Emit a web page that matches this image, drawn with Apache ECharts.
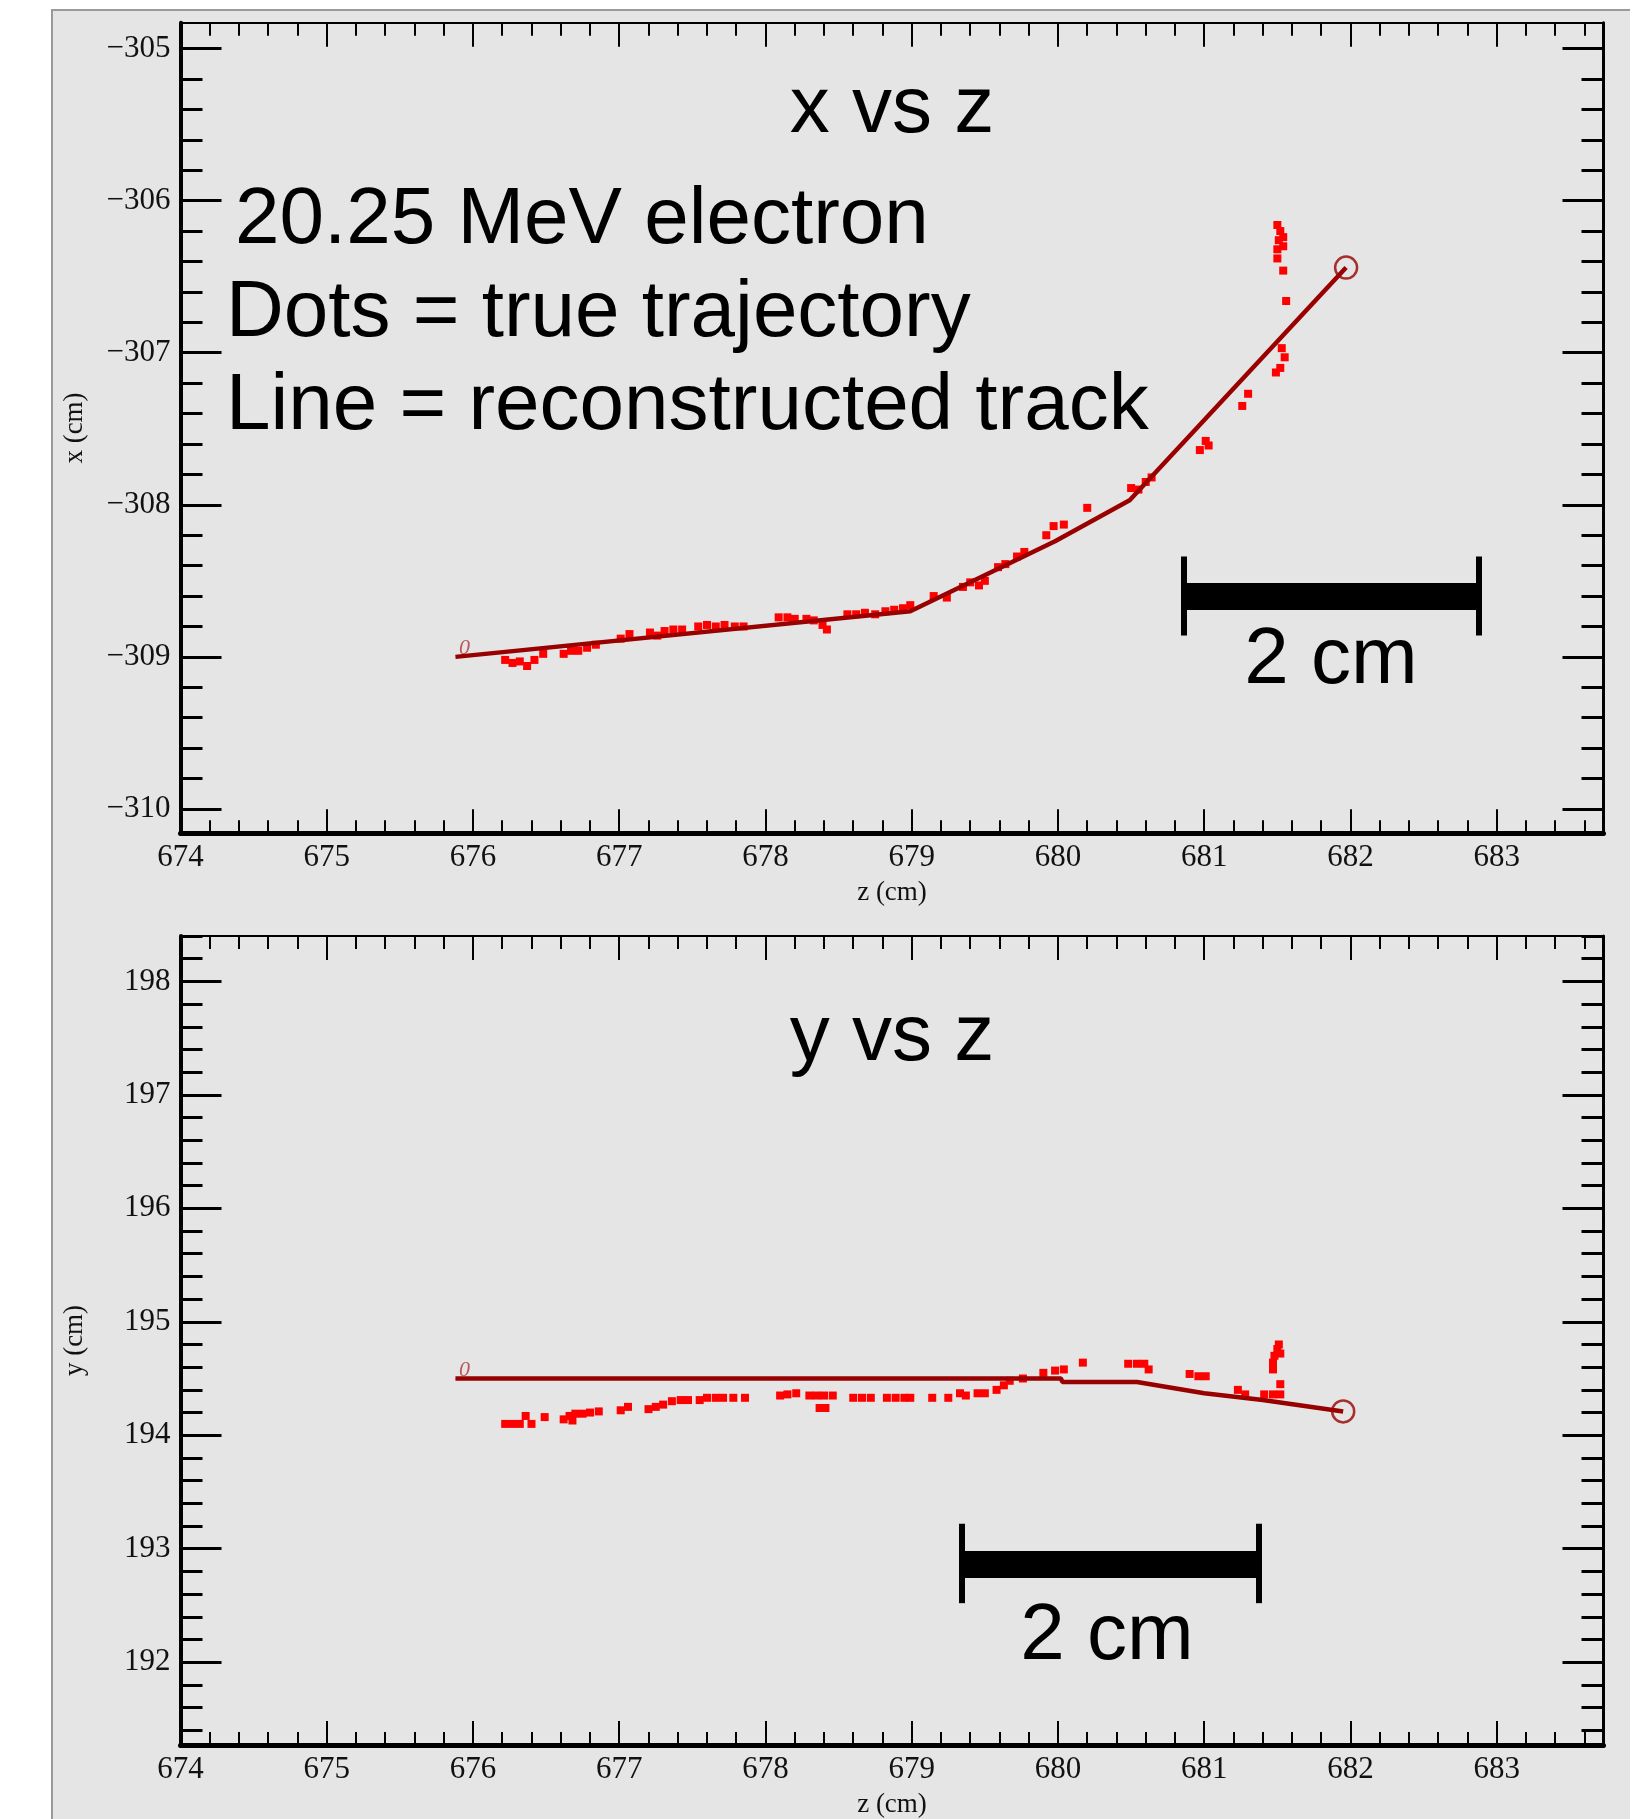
<!DOCTYPE html>
<html>
<head>
<meta charset="utf-8">
<title>x vs z / y vs z</title>
<script src="https://cdn.jsdelivr.net/npm/echarts@6/dist/echarts.min.js"></script>
<style>
  html, body { margin: 0; padding: 0; background: #fff; }
  #panel {
    position: absolute; left: 51px; top: 9px; width: 1577px; height: 1810px;
    background: #e5e5e5; border-left: 2px solid #9a9a9a; border-top: 2px solid #9a9a9a;
  }
  #chart { position: absolute; left: 0; top: 0; width: 1640px; height: 1819px; }
</style>
</head>
<body>
<div id="panel"></div>
<div id="chart"></div>
<script>
// axis ticks and ranges
const zTicks = [674, 675, 676, 677, 678, 679, 680, 681, 682, 683]
const xTicks = [-310, -309, -308, -307, -306, -305]
const yTicks = [192, 193, 194, 195, 196, 197, 198]
const zRange = [674, 683.73]
const xRange = [-310.16, -304.83]
const yRange = [191.27, 198.40]

// reconstructed track (line) and true trajectory (dots), x vs z
const trackXZ = [[675.88, -309.00], [678.99, -308.70], [679.98, -308.24], [680.49, -307.97], [681.97, -306.44]]
const hitsXZ = [
  [676.22, -309.02], [676.27, -309.04], [676.32, -309.03], [676.37, -309.06], [676.42, -309.02],
  [676.48, -308.98], [676.62, -308.98], [676.67, -308.96], [676.72, -308.96], [676.78, -308.94], [676.84, -308.92],
  [677.01, -308.88], [677.07, -308.85], [677.21, -308.84], [677.26, -308.86], [677.31, -308.83], [677.37, -308.82], [677.43, -308.82],
  [677.54, -308.80], [677.60, -308.79], [677.66, -308.80], [677.72, -308.79], [677.79, -308.80], [677.85, -308.80],
  [678.09, -308.74], [678.15, -308.74], [678.20, -308.75], [678.28, -308.75], [678.33, -308.76],
  [678.39, -308.79], [678.42, -308.82], [678.56, -308.72], [678.62, -308.72], [678.68, -308.71], [678.75, -308.72],
  [678.82, -308.70], [678.88, -308.69], [678.94, -308.68], [678.99, -308.66],
  [679.15, -308.60], [679.24, -308.61], [679.35, -308.54], [679.40, -308.51], [679.46, -308.53], [679.50, -308.50],
  [679.59, -308.41], [679.64, -308.39], [679.72, -308.34], [679.77, -308.31],
  [679.92, -308.20], [679.97, -308.14], [680.04, -308.13], [680.20, -308.02],
  [680.50, -307.89], [680.55, -307.90], [680.60, -307.85], [680.64, -307.82],
  [680.97, -307.64], [681.01, -307.58], [681.03, -307.61], [681.26, -307.35], [681.30, -307.27],
  [681.49, -307.13], [681.52, -307.10], [681.55, -307.03], [681.53, -306.97], [681.56, -306.66], [681.54, -306.46],
  [681.50, -306.38], [681.50, -306.32], [681.51, -306.26], [681.52, -306.20], [681.50, -306.16], [681.54, -306.24], [681.54, -306.30]
]

// y vs z
const trackYZ = [[675.88, 194.50], [680.02, 194.50], [680.03, 194.47], [680.54, 194.47], [681.00, 194.37], [681.40, 194.31], [681.95, 194.21]]
const hitsYZ = [
  [676.22, 194.10], [676.27, 194.10], [676.32, 194.10], [676.36, 194.17], [676.40, 194.10], [676.49, 194.16],
  [676.62, 194.14], [676.66, 194.17], [676.70, 194.19], [676.75, 194.19], [676.80, 194.20], [676.86, 194.21], [676.68, 194.13],
  [677.01, 194.22], [677.06, 194.25], [677.20, 194.23], [677.25, 194.25], [677.30, 194.27], [677.36, 194.30], [677.42, 194.31], [677.47, 194.31],
  [677.55, 194.31], [677.60, 194.33], [677.66, 194.33], [677.71, 194.33], [677.78, 194.33], [677.86, 194.33],
  [678.10, 194.35], [678.15, 194.36], [678.21, 194.37], [678.30, 194.35], [678.35, 194.35], [678.40, 194.35], [678.46, 194.35],
  [678.37, 194.24], [678.41, 194.24], [678.60, 194.33], [678.66, 194.33], [678.72, 194.33],
  [678.83, 194.33], [678.89, 194.33], [678.95, 194.33], [678.99, 194.33], [679.14, 194.33], [679.25, 194.33],
  [679.33, 194.37], [679.37, 194.35], [679.45, 194.37], [679.50, 194.37],
  [679.58, 194.40], [679.63, 194.44], [679.67, 194.48], [679.76, 194.50], [679.90, 194.55], [679.98, 194.57], [680.04, 194.58], [680.17, 194.64],
  [680.48, 194.63], [680.54, 194.63], [680.59, 194.63], [680.62, 194.58],
  [680.90, 194.54], [680.96, 194.52], [681.01, 194.52], [681.23, 194.40], [681.28, 194.36],
  [681.41, 194.36], [681.47, 194.36], [681.52, 194.36],
  [681.47, 194.58], [681.47, 194.64], [681.48, 194.70], [681.50, 194.76], [681.51, 194.80], [681.52, 194.72], [681.52, 194.45]
]

// 2 cm scale bars: [z from, z to, level], cap extents
const barXZ = [680.86, 682.88, -308.60]
const capXZ = [-308.34, -308.86]
const barYZ = [679.34, 681.37, 192.86]
const capYZ = [193.22, 192.52]

const SERIF = '"Liberation Serif", "DejaVu Serif", serif'
const SANS = '"Liberation Sans", Arial, sans-serif'
const TRACK = '#990000'
const HIT = '#ff0000'

function minorTicks(range) {
  const out = []
  for (let k = Math.ceil(range[0] * 5 - 1e-6); k <= Math.floor(range[1] * 5 + 1e-6); k++) {
    if (k % 5 !== 0) out.push(k / 5)
  }
  return out
}

function axis(gridIndex, range, position, opts) {
  return {
    type: 'value',
    gridIndex,
    position,
    min: range[0],
    max: range[1],
    splitLine: { show: false },
    axisLine: { show: !!opts.line, onZero: false, lineStyle: { color: '#000', width: opts.line || 1 } },
    axisTick: {
      show: true, inside: true, length: opts.tickLen,
      customValues: opts.ticks,
      lineStyle: { color: '#000', width: opts.tickWidth }
    },
    axisLabel: opts.labels ? {
      show: true, customValues: opts.labels, margin: opts.margin,
      fontFamily: SERIF, fontSize: 31, color: '#111',
      formatter: v => String(v).replace('-', '\u2212')
    } : { show: false },
    name: opts.name || '',
    nameLocation: 'middle',
    nameGap: opts.nameGap || 0,
    nameTextStyle: { fontFamily: SERIF, fontSize: 27, color: '#111' }
  }
}

function xAxesFor(g) {
  const minors = minorTicks(zRange)
  return [
    axis(g, zRange, 'bottom', { line: 5, ticks: zTicks, tickLen: 24, tickWidth: 2, labels: zTicks, margin: 9, name: 'z (cm)', nameGap: 46 }),
    axis(g, zRange, 'bottom', { ticks: minors, tickLen: 13, tickWidth: 2 }),
    axis(g, zRange, 'top', { line: 2, ticks: zTicks, tickLen: 24, tickWidth: 2 }),
    axis(g, zRange, 'top', { ticks: minors, tickLen: 13, tickWidth: 2 })
  ]
}

function yAxesFor(g, range, ticks, name) {
  const minors = minorTicks(range)
  return [
    axis(g, range, 'left', { line: 4, ticks, tickLen: 41, tickWidth: 3, labels: ticks, margin: 10, name, nameGap: 92 }),
    axis(g, range, 'left', { ticks: minors, tickLen: 22, tickWidth: 3 }),
    axis(g, range, 'right', { line: 3, ticks, tickLen: 41, tickWidth: 3 }),
    axis(g, range, 'right', { ticks: minors, tickLen: 22, tickWidth: 3 })
  ]
}

function plotSeries(xi, yi, track, hits, bar, cap) {
  return [
    {
      type: 'scatter', xAxisIndex: xi, yAxisIndex: yi, data: hits,
      symbol: 'rect', symbolSize: 8, itemStyle: { color: HIT, opacity: 1 }, z: 2, silent: true
    },
    {
      type: 'line', xAxisIndex: xi, yAxisIndex: yi, data: track,
      symbol: 'none', lineStyle: { color: TRACK, width: 4.5 }, z: 3, silent: true
    },
    {
      // start marker
      type: 'scatter', xAxisIndex: xi, yAxisIndex: yi, data: [track[0]],
      symbol: 'circle', symbolSize: 1, itemStyle: { color: 'transparent' }, z: 4,
      label: {
        show: true, formatter: '0', position: 'top', distance: 0, offset: [9, 3],
        fontFamily: SERIF, fontStyle: 'italic', fontSize: 22, color: '#b03333'
      }
    },
    {
      // end marker
      type: 'scatter', xAxisIndex: xi, yAxisIndex: yi, data: [track[track.length - 1]],
      symbol: 'circle', symbolSize: 22,
      itemStyle: { color: 'transparent', borderColor: TRACK, borderWidth: 2.5 }, z: 4
    },
    {
      // 2 cm scale bar
      type: 'lines', coordinateSystem: 'cartesian2d', xAxisIndex: xi, yAxisIndex: yi, z: 5,
      lineStyle: { color: '#000', width: 6, opacity: 1, curveness: 0, cap: 'butt' },
      data: [
        { coords: [[bar[0], bar[2]], [bar[1], bar[2]]], lineStyle: { width: 27 } },
        { coords: [[bar[0], cap[0]], [bar[0], cap[1]]] },
        { coords: [[bar[1], cap[0]], [bar[1], cap[1]]] }
      ]
    }
  ]
}

function text(str, x, y, align) {
  return {
    type: 'text', x, y, z: 10,
    style: { text: str, font: '80px ' + SANS, fill: '#000', align: align || 'left', verticalAlign: 'middle' }
  }
}

const chart = echarts.init(document.getElementById('chart'), null, { renderer: 'canvas' })

chart.setOption({
  animation: false,
  backgroundColor: 'transparent',
  grid: [
    { left: 180.5, top: 22.7, width: 1423, height: 810.6, outerBoundsMode: 'none' },
    { left: 180.5, top: 936, width: 1423, height: 809, outerBoundsMode: 'none' }
  ],
  xAxis: [...xAxesFor(0), ...xAxesFor(1)],
  yAxis: [...yAxesFor(0, xRange, xTicks, 'x (cm)'), ...yAxesFor(1, yRange, yTicks, 'y (cm)')],
  series: [
    ...plotSeries(0, 0, trackXZ, hitsXZ, barXZ, capXZ),
    ...plotSeries(4, 4, trackYZ, hitsYZ, barYZ, capYZ)
  ],
  graphic: [
    text('x vs z', 892, 110, 'center'),
    text('20.25 MeV electron', 235, 221),
    text('Dots = true trajectory', 226, 314),
    text('Line = reconstructed track', 226, 407),
    text('2 cm', 1331, 661, 'center'),
    text('y vs z', 892, 1038, 'center'),
    text('2 cm', 1107, 1637, 'center')
  ]
})
</script>
</body>
</html>
